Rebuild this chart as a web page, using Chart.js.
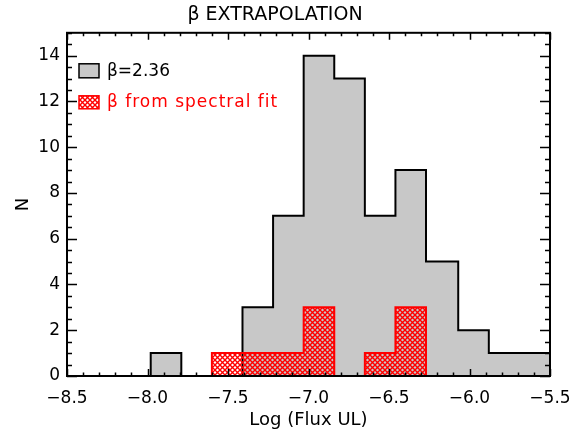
<!DOCTYPE html>
<html lang="en">
<head>
    <meta charset="UTF-8">
    <title>β Extrapolation</title>
    <script src="https://cdn.jsdelivr.net/npm/chart.js"></script>
    <style>
        html, body { margin: 0; padding: 0; background: #fff; }
        #wrap { width: 573px; height: 434px; }
    </style>
</head>
<body>
<div id="wrap"><canvas id="histChart" width="573" height="434"></canvas></div>
<script>
// histogram bin edges (log flux) and counts
const grayEdges = [-7.98, -7.79, -7.60, -7.41, -7.22, -7.03, -6.84, -6.65, -6.46, -6.27, -6.07, -5.88, -5.69, -5.50];
const grayCounts = [1, 0, 0, 3, 7, 14, 13, 7, 9, 5, 2, 1, 1];
const redEdges = [-7.60, -7.41, -7.22, -7.03, -6.84, -6.65, -6.46, -6.27];
const redCounts = [1, 1, 1, 3, 0, 1, 3];

const xTicks = [-8.5, -8.0, -7.5, -7.0, -6.5, -6.0, -5.5];
const yTicks = [0, 2, 4, 6, 8, 10, 12, 14];
const legendLabels = ['β=2.36', 'β from spectral fit'];

const FONT = "'DejaVu Sans', 'Liberation Sans', sans-serif";

// outline of a histogram as step points (bin start, count)
function stepPoints(edges, counts) {
    const pts = [{ x: edges[0], y: 0 }];
    counts.forEach((c, i) => pts.push({ x: edges[i], y: c }));
    const last = edges[edges.length - 1];
    pts.push({ x: last, y: counts[counts.length - 1] });
    pts.push({ x: last, y: 0 });
    return pts;
}

// red cross hatch
function makeHatch() {
    const c = document.createElement('canvas');
    c.width = 5; c.height = 5;
    const g = c.getContext('2d');
    g.strokeStyle = '#ff0000';
    g.lineWidth = 1.4;
    g.beginPath();
    g.moveTo(-1, -1); g.lineTo(6, 6);
    g.moveTo(-1, 6); g.lineTo(6, -1);
    g.stroke();
    return g.createPattern(c, 'repeat');
}
const hatch = makeHatch();

// box, inward ticks on all four sides, and the legend
const frameAndLegend = {
    id: 'frameAndLegend',
    afterDatasetsDraw(chart) {
        const { ctx, chartArea: a, scales: { x, y } } = chart;
        ctx.save();
        ctx.strokeStyle = '#000';
        ctx.lineWidth = 1.5;
        ctx.beginPath();
        for (let k = 0; k <= 30; k++) {
            const px = Math.round(x.getPixelForValue(-8.5 + k * 0.1)) + 0.5;
            const len = k % 5 === 0 ? 7 : 3.5;
            ctx.moveTo(px, a.bottom); ctx.lineTo(px, a.bottom - len);
            ctx.moveTo(px, a.top); ctx.lineTo(px, a.top + len);
        }
        for (let k = 0; k <= 30; k++) {
            const py = Math.round(y.getPixelForValue(k * 0.5)) + 0.5;
            const len = k % 4 === 0 ? 10 : 5;
            ctx.moveTo(a.left, py); ctx.lineTo(a.left + len, py);
            ctx.moveTo(a.right, py); ctx.lineTo(a.right - len, py);
        }
        ctx.stroke();
        ctx.lineWidth = 2;
        ctx.strokeRect(a.left, a.top, a.right - a.left, a.bottom - a.top);

        // legend
        const bx = a.left + 12, by = a.top + 31;
        ctx.fillStyle = '#c8c8c8';
        ctx.fillRect(bx, by, 20, 14);
        ctx.lineWidth = 1.5;
        ctx.strokeStyle = '#000';
        ctx.strokeRect(bx, by, 20, 14);
        ctx.fillStyle = hatch;
        ctx.fillRect(bx, by + 32, 20, 13);
        ctx.strokeStyle = '#ff0000';
        ctx.strokeRect(bx, by + 32, 20, 13);

        ctx.font = '17px ' + FONT;
        ctx.textBaseline = 'middle';
        ctx.fillStyle = '#000';
        ctx.fillText(legendLabels[0], bx + 28, by + 8);
        ctx.fillStyle = '#ff0000';
        ctx.letterSpacing = '1px';
        ctx.fillText(legendLabels[1], bx + 28, by + 39);
        ctx.restore();
    }
};

new Chart(document.getElementById('histChart'), {
    type: 'line',
    data: {
        datasets: [
            {
                label: legendLabels[1],
                data: stepPoints(redEdges, redCounts),
                stepped: 'before',
                fill: 'origin',
                backgroundColor: hatch,
                borderColor: '#ff0000',
                borderWidth: 2,
                pointRadius: 0
            },
            {
                label: legendLabels[0],
                data: stepPoints(grayEdges, grayCounts),
                stepped: 'before',
                fill: 'origin',
                backgroundColor: '#c8c8c8',
                borderColor: '#000',
                borderWidth: 2,
                pointRadius: 0
            }
        ]
    },
    options: {
        responsive: false,
        animation: false,
        devicePixelRatio: 1,
        layout: { padding: { left: 0, right: 23, top: 0, bottom: 0 } },
        plugins: {
            legend: { display: false },
            tooltip: { enabled: false },
            title: {
                display: true,
                text: 'β EXTRAPOLATION',
                color: '#000',
                font: { family: FONT, size: 19, weight: 'normal' },
                padding: { top: 4, bottom: 6 }
            }
        },
        scales: {
            x: {
                type: 'linear',
                min: -8.5,
                max: -5.5,
                afterBuildTicks: s => { s.ticks = xTicks.map(v => ({ value: v })); },
                afterFit: s => { s.height = 58; s.paddingLeft = 0; s.paddingRight = 0; },
                grid: { display: false, drawTicks: false },
                border: { display: false },
                ticks: {
                    color: '#000',
                    padding: 12,
                    maxRotation: 0,
                    font: { family: FONT, size: 17 },
                    callback: v => (v < 0 ? '\u2212' : '') + Math.abs(v).toFixed(1)
                },
                title: {
                    display: true,
                    text: 'Log (Flux UL)',
                    color: '#000',
                    font: { family: FONT, size: 18 },
                    padding: { top: 0, bottom: 3 }
                }
            },
            y: {
                min: 0,
                max: 15,
                afterBuildTicks: s => { s.ticks = yTicks.map(v => ({ value: v })); },
                afterFit: s => { s.width = 67; },
                grid: { display: false, drawTicks: false },
                border: { display: false },
                ticks: {
                    color: '#000',
                    padding: 7,
                    font: { family: FONT, size: 17 }
                },
                title: {
                    display: true,
                    text: 'N',
                    color: '#000',
                    font: { family: FONT, size: 18 },
                    padding: { top: 13, bottom: 0 }
                }
            }
        }
    },
    plugins: [frameAndLegend]
});
</script>
</body>
</html>
